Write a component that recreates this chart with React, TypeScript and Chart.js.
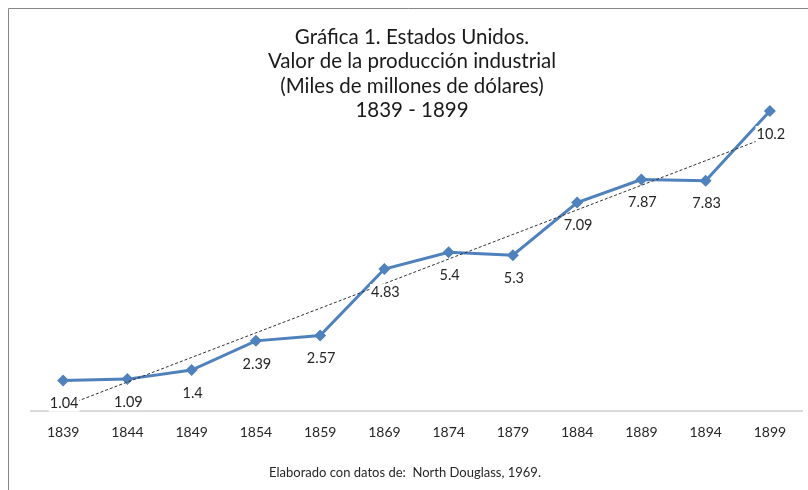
import React, { useEffect, useRef } from "react";
import { Chart, registerables } from "chart.js";

Chart.register(...registerables);

const years = ["1839", "1844", "1849", "1854", "1859", "1869", "1874", "1879", "1884", "1889", "1894", "1899"];
const production = [1.04, 1.09, 1.4, 2.39, 2.57, 4.83, 5.4, 5.3, 7.09, 7.87, 7.83, 10.2];
const productionLabels = ["1.04", "1.09", "1.4", "2.39", "2.57", "4.83", "5.4", "5.3", "7.09", "7.87", "7.83", "10.2"];
const titleLines = [
  "Gráfica 1. Estados Unidos.",
  "Valor de la producción industrial",
  "(Miles de millones de dólares)",
  "1839 - 1899",
];
const footnote = "Elaborado con datos de:  North Douglass, 1969.";

const FONT = "Lato, 'Open Sans', sans-serif";
const BLUE = "#4f81bd";

// Linear (least-squares) trendline over the category index, like Excel's
function linearTrend(v: number[]): number[] {
  const n = v.length;
  const xs = v.map((_, i) => i + 1);
  const mx = xs.reduce((a, b) => a + b, 0) / n;
  const my = v.reduce((a, b) => a + b, 0) / n;
  let sxy = 0;
  let sxx = 0;
  for (let i = 0; i < n; i++) {
    sxy += (xs[i] - mx) * (v[i] - my);
    sxx += (xs[i] - mx) * (xs[i] - mx);
  }
  const b = sxy / sxx;
  const a = my - b * mx;
  return xs.map((x) => a + b * x);
}

const framePlugin = {
  id: "frame",
  beforeDraw(chart: any) {
    const ctx = chart.ctx;
    ctx.save();
    ctx.fillStyle = "#ffffff";
    ctx.fillRect(0, 0, chart.width, chart.height);
    ctx.strokeStyle = "#868686";
    ctx.lineWidth = 1;
    ctx.beginPath();
    ctx.moveTo(8.5, chart.height + 5);
    ctx.lineTo(8.5, 8.5);
    ctx.lineTo(chart.width + 5, 8.5);
    ctx.stroke();
    ctx.restore();
  },
};

const labelsPlugin = {
  id: "pointLabels",
  afterDatasetsDraw(chart: any) {
    const ctx = chart.ctx;
    const meta = chart.getDatasetMeta(0);
    ctx.save();
    ctx.font = `14.5px ${FONT}`;
    ctx.textAlign = "center";
    ctx.textBaseline = "middle";
    meta.data.forEach((pt: any, i: number) => {
      const txt = productionLabels[i];
      const x = pt.x + 1;
      const y = pt.y + 23;
      const w = ctx.measureText(txt).width;
      ctx.fillStyle = "#ffffff";
      ctx.fillRect(x - w / 2 - 1, y - 8, w + 2, 16);
      ctx.fillStyle = "#262626";
      ctx.fillText(txt, x, y);
    });
    ctx.restore();
  },
};

const textPlugin = {
  id: "texts",
  afterDraw(chart: any) {
    const ctx = chart.ctx;
    ctx.save();
    ctx.textAlign = "center";
    ctx.textBaseline = "middle";
    ctx.fillStyle = "#1a1a1a";
    ctx.font = `20.5px ${FONT}`;
    titleLines.forEach((line, i) => {
      ctx.fillText(line, 412, 37 + i * 24.6);
    });
    ctx.font = `13px ${FONT}`;
    ctx.fillStyle = "#262626";
    ctx.fillText(footnote, 405, 473);
    ctx.restore();
  },
};

export default function App() {
  const ref = useRef<HTMLCanvasElement | null>(null);

  useEffect(() => {
    if (!ref.current) return;
    const trend = linearTrend(production);
    const chart = new Chart(ref.current, {
      type: "line",
      data: {
        labels: years,
        datasets: [
          {
            label: "Valor de la producción industrial",
            data: production,
            borderColor: BLUE,
            backgroundColor: BLUE,
            borderWidth: 3,
            pointStyle: "rectRot",
            pointRadius: 6,
            pointBorderWidth: 0,
            pointBackgroundColor: BLUE,
            tension: 0,
            order: 2,
          },
          {
            label: "Lineal",
            data: trend,
            borderColor: "#333333",
            borderWidth: 1,
            borderDash: [3, 2],
            pointRadius: 0,
            fill: false,
            order: 1,
          },
        ],
      },
      options: {
        animation: false,
        responsive: false,
        devicePixelRatio: 1,
        layout: { padding: { left: 31, right: 3, top: 58, bottom: 36 } },
        plugins: {
          legend: { display: false },
          title: { display: false },
          tooltip: { enabled: false },
        },
        scales: {
          x: {
            offset: true,
            grid: { display: false, drawTicks: false },
            border: { display: true, color: "#d9d9d9", width: 2 },
            ticks: {
              color: "#262626",
              font: { family: FONT, size: 14 },
              padding: 13,
              maxRotation: 0,
              autoSkip: false,
            },
          },
          y: {
            display: false,
            min: 0,
            max: 12,
          },
        },
      },
      plugins: [framePlugin, labelsPlugin, textPlugin],
    });
    return () => chart.destroy();
  }, []);

  return (
    <canvas
      ref={ref}
      width={808}
      height={490}
      style={{ position: "fixed", left: 0, top: 0, width: 808, height: 490, display: "block" }}
    />
  );
}
